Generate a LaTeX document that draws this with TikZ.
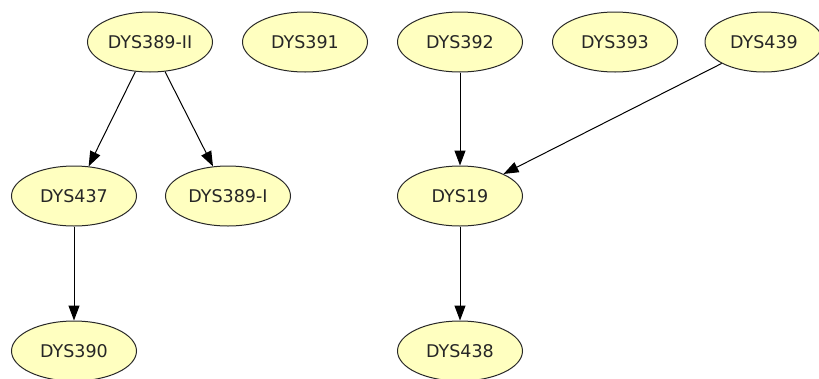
\documentclass[tikz,border=0pt]{standalone}
\usepackage{fontspec}
\setmainfont{DejaVu Sans}
\usetikzlibrary{shapes.geometric,arrows.meta}
\definecolor{nodefill}{RGB}{255,255,192}
\definecolor{nodeline}{RGB}{40,40,40}
\begin{document}
\begin{tikzpicture}[x=1pt,y=-1pt,
  gnode/.style={ellipse,draw=nodeline,fill=nodefill,line width=1pt,inner sep=0pt,
    minimum width=125pt,minimum height=60pt,font=\fontsize{17.5}{20}\selectfont,text=black!85},
  edge/.style={line width=1pt,draw=black,-{Triangle[length=15pt,width=11pt]}}]
\useasboundingbox (0,0) rectangle (819,378);
\clip (0,0) rectangle (819,378);
\fill[white] (0,0) rectangle (819,378);
\node[gnode] (n389II) at (150,42) {DYS389-II};
\node[gnode] (n391) at (305,42) {DYS391};
\node[gnode] (n392) at (460,42) {DYS392};
\node[gnode] (n393) at (615,42) {DYS393};
\node[gnode,minimum width=118pt] (n439) at (764,42) {DYS439};
\node[gnode] (n437) at (74,196) {DYS437};
\node[gnode] (n389I) at (228,196) {DYS389-I};
\node[gnode] (n19) at (460,196) {DYS19};
\node[gnode] (n390) at (74,351) {DYS390};
\node[gnode] (n438) at (460,351) {DYS438};
\draw[edge] (n389II) -- (n437);
\draw[edge] (n389II) -- (n389I);
\draw[edge] (n437) -- (n390);
\draw[edge] (n392) -- (n19);
\draw[edge] (n439) -- (n19);
\draw[edge] (n19) -- (n438);
\end{tikzpicture}
\end{document}
